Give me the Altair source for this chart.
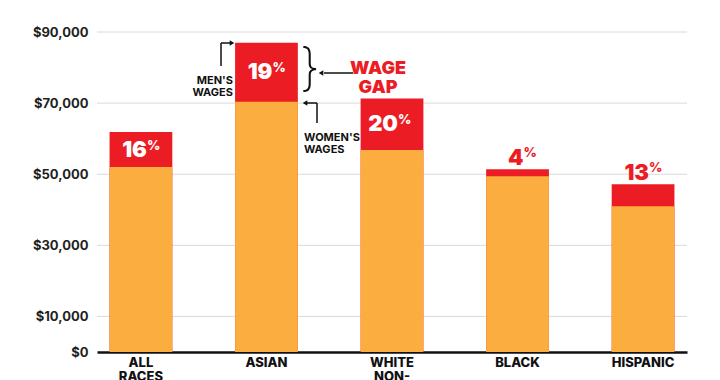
import altair as alt
import pandas as pd

# ---- data ----
groups = ["ALL|RACES", "ASIAN", "WHITE|NON-|HISPANIC", "BLACK", "HISPANIC"]
mens_wages = [61900, 87000, 71300, 51400, 47200]
womens_wages = [52000, 70400, 56800, 49400, 41000]
gap_pct = [16, 19, 20, 4, 13]
y_ticks = [0, 10000, 30000, 50000, 70000, 90000]

RED = "#EC1C24"
ORANGE = "#FBAD3F"
FONT = "Inter"

df = pd.DataFrame({
    "group": groups,
    "men": mens_wages,
    "women": womens_wages,
    "pct": [str(p) for p in gap_pct],
})
df["mid"] = (df["men"] + df["women"]) / 2
df["inside"] = (df["men"] - df["women"]) > 8000

grid_df = pd.DataFrame({"tick": [t for t in y_ticks if t > 0]})

W, H = 590, 320

x_enc = alt.X(
    "group:N", sort=groups, title=None,
    scale=alt.Scale(paddingInner=0.5, paddingOuter=0.1),
    axis=alt.Axis(
        labelExpr="split(datum.label, '|')",
        labelAngle=0, labelFont=FONT, labelFontSize=13, labelFontWeight=800,
        labelColor="#111111", labelPadding=4, labelLineHeight=14,
        ticks=False, domain=True, domainColor="#111111", domainWidth=2.5,
        grid=False, labelBaseline="top",
    ),
)
y_scale = alt.Scale(domain=[0, 90000], nice=False)
y_axis = alt.Axis(
    values=y_ticks, format="$,.0f", title=None, labelFont=FONT,
    labelFontSize=13, labelFontWeight="bold", labelColor="#231F20",
    labelPadding=9, ticks=False, domain=False, grid=False,
)

grid = alt.Chart(grid_df).mark_rule(color="#DADADA", strokeWidth=1).encode(
    y=alt.Y("tick:Q", scale=y_scale, axis=y_axis)
)

base = alt.Chart(df)

men_bar = base.mark_bar(color=RED).encode(
    x=x_enc, y=alt.Y("men:Q", scale=y_scale, axis=y_axis)
)
women_bar = base.mark_bar(color=ORANGE).encode(
    x=alt.X("group:N", sort=groups), y=alt.Y("women:Q")
)

inside = base.transform_filter("datum.inside")
outside = base.transform_filter("!datum.inside")

num_in = inside.mark_text(
    align="right", baseline="middle", dx=6, font=FONT, fontSize=22,
    fontWeight=900, color="white"
).encode(x=alt.X("group:N", sort=groups), y="mid:Q", text="pct:N")
pct_in = inside.mark_text(
    align="left", baseline="middle", dx=6, dy=-4, font=FONT, fontSize=13,
    fontWeight=800, color="white"
).encode(x=alt.X("group:N", sort=groups), y="mid:Q", text=alt.value("%"))

num_out = outside.mark_text(
    align="right", baseline="alphabetic", dx=6, dy=-4, font=FONT, fontSize=22,
    fontWeight=900, color=RED
).encode(x=alt.X("group:N", sort=groups), y="men:Q", text="pct:N")
pct_out = outside.mark_text(
    align="left", baseline="alphabetic", dx=6, dy=-12, font=FONT, fontSize=13,
    fontWeight=800, color=RED
).encode(x=alt.X("group:N", sort=groups), y="men:Q", text=alt.value("%"))

# ---- annotations ----
one = alt.Chart(pd.DataFrame({"a": [0]}))


def rule(x1, x2, y1, y2):
    return one.mark_rule(color="#111111", strokeWidth=1.5).encode(
        x=alt.value(x1), x2=alt.value(x2), y=alt.value(y1), y2=alt.value(y2)
    )


def head(x, y, shape):
    return one.mark_point(shape=shape, filled=True, color="#111111", size=28, opacity=1).encode(
        x=alt.value(x), y=alt.value(y)
    )


def label(x, y, txt, align, size, color="#111111", weight="bold"):
    return one.mark_text(
        align=align, baseline="middle", font=FONT, fontSize=size,
        fontWeight=weight, color=color, lineBreak="\n", lineHeight=size + 1
    ).encode(x=alt.value(x), y=alt.value(y), text=alt.value(txt))


annotations = [
    rule(124, 124, 34, 11), rule(124, 133, 11, 11), head(135, 11, "triangle-right"),
    label(136, 49, "MEN'S\nWAGES", "right", 11),
    one.mark_text(font=FONT, fontSize=50, fontWeight=200,
                  baseline="middle", color="#111111").encode(
        x=alt.value(213), y=alt.value(38), text=alt.value("}")),
    rule(256, 227, 41, 41), head(224, 41, "triangle-left"),
    label(281, 37, "WAGE\nGAP", "center", 18, RED, 900),
    rule(220, 220, 91, 71), rule(220, 210, 71, 71), head(208, 71, "triangle-left"),
    label(207, 106, "WOMEN'S\nWAGES", "left", 11),
]

chart = alt.layer(
    grid, men_bar, women_bar, num_in, pct_in, num_out, pct_out, *annotations
).properties(
    width=W, height=H,
    autosize=alt.AutoSizeParams(type="none"),
    padding={"left": 89, "top": 24, "right": 25, "bottom": 40},
).configure(
    background="white",
    view=alt.ViewConfig(stroke="transparent", strokeWidth=0),
)

chart.save("out.html", embed_options={"renderer": "svg", "actions": False})
